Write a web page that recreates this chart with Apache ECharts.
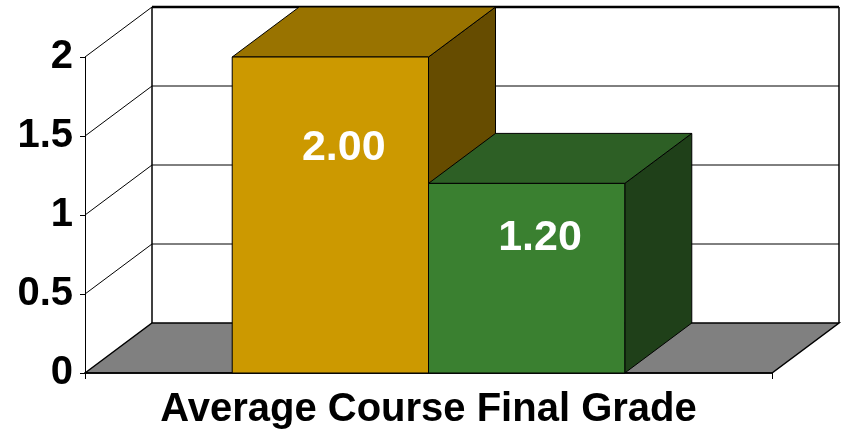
<!DOCTYPE html>
<html>
<head>
<meta charset="utf-8">
<script src="https://cdn.jsdelivr.net/npm/echarts@6/dist/echarts.min.js"></script>
<style>
  html, body { margin: 0; padding: 0; background: #fff; }
  #chart { width: 845px; height: 436px; }
</style>
</head>
<body>
<div id="chart"></div>
<script>
// data
const categories = ['Average Course Final Grade'];
const seriesNames = ['Grade A', 'Grade B'];
const values = [2.00, 1.20];
const yTicks = [0, 0.5, 1, 1.5, 2];

// 3D look
const DEPTH = [67, -50];
const GAP = 1.5; // excel gap width 150%
const faceColors = [
  { front: '#cc9900', top: '#997300', side: '#664c00' },
  { front: '#3a8030', top: '#2d5f25', side: '#1f4019' }
];

const chart = echarts.init(document.getElementById('chart'));

// back wall, side wall gridlines and floor
const renderFrame = (params, api) => {
  const cs = params.coordSys;
  const left = cs.x, right = cs.x + cs.width;
  const [dx, dy] = DEPTH;
  const y = api.coord([0, api.value(1)])[1];
  const children = [];
  const line = (x1, y1, x2, y2, w) => ({
    type: 'line',
    shape: { x1, y1, x2, y2 },
    style: { stroke: '#000', lineWidth: w || 1 }
  });
  if (params.dataIndex === 0) {
    children.push({
      type: 'polygon',
      shape: { points: [[left, y], [left + dx, y + dy], [right + dx, y + dy], [right, y]] },
      style: { fill: '#808080', stroke: '#000', lineWidth: 1.5 }
    });
  } else {
    children.push(line(left, y, left + dx, y + dy));
    const last = params.dataIndex === yTicks.length - 1;
    children.push(line(left + dx, y + dy, right + dx, y + dy, last ? 2.5 : 1));
    if (last) {
      const y0 = api.coord([0, 0])[1];
      children.push(line(left + dx, y + dy, left + dx, y0 + dy, 1.5));
      children.push(line(right + dx, y + dy, right + dx, y0 + dy, 1.5));
    }
  }
  return { type: 'group', children };
};

const makeBarRender = (idx) => (params, api) => {
  const [dx, dy] = DEPTH;
  const base = api.coord([api.value(0), 0]);
  const top = api.coord([api.value(0), api.value(1)]);
  const band = api.size([1, 0])[0];
  const barW = band / (values.length + GAP);
  const x0 = base[0] - band / 2 + barW * GAP / 2 + idx * barW;
  const x1 = x0 + barW;
  const ty = top[1], by = base[1];
  const c = faceColors[idx];
  const stroke = { stroke: '#000', lineWidth: 1 };
  return {
    type: 'group',
    children: [
      {
        type: 'polygon',
        shape: { points: [[x1, ty], [x1 + dx, ty + dy], [x1 + dx, by + dy], [x1, by]] },
        style: { fill: c.side, ...stroke }
      },
      {
        type: 'polygon',
        shape: { points: [[x0, ty], [x0 + dx, ty + dy], [x1 + dx, ty + dy], [x1, ty]] },
        style: { fill: c.top, ...stroke }
      },
      {
        type: 'rect',
        shape: { x: x0, y: ty, width: barW, height: by - ty },
        style: { fill: c.front, ...stroke }
      },
      {
        type: 'text',
        x: (x0 + x1) / 2 + dx * 0.2,
        y: ty + (by - ty) * 0.29,
        style: {
          text: api.value(1).toFixed(2),
          fill: '#fff',
          font: 'bold 43px "Liberation Sans", Arial, sans-serif',
          align: 'center',
          verticalAlign: 'middle'
        }
      }
    ]
  };
};

const option = {
  backgroundColor: '#ffffff',
  animation: false,
  grid: { left: 85, right: 73, top: 57, bottom: 63, containLabel: false },
  xAxis: {
    type: 'category',
    data: categories,
    axisLine: { lineStyle: { color: '#000', width: 1.5 } },
    axisTick: { show: true, length: 6, lineStyle: { color: '#000' } },
    axisLabel: {
      color: '#000',
      fontSize: 40,
      fontWeight: 'bold',
      fontFamily: '"Liberation Sans", Arial, sans-serif',
      margin: 17
    },
    splitLine: { show: false },
    z: 1
  },
  yAxis: {
    type: 'value',
    min: 0,
    max: 2,
    interval: 0.5,
    axisLine: { show: true, lineStyle: { color: '#000', width: 1 } },
    axisTick: { show: true, length: 5, lineStyle: { color: '#000' } },
    axisLabel: {
      color: '#000',
      fontSize: 40,
      fontWeight: 'bold',
      fontFamily: '"Liberation Sans", Arial, sans-serif',
      margin: 12
    },
    splitLine: { show: false }
  },
  series: [
    {
      name: 'frame',
      type: 'custom',
      silent: true,
      renderItem: renderFrame,
      data: yTicks.map(v => [0, v]),
      z: 0
    },
    ...values.map((v, i) => ({
      name: seriesNames[i],
      type: 'custom',
      renderItem: makeBarRender(i),
      data: [[0, v]],
      z: 2
    }))
  ]
};

chart.setOption(option);
window.addEventListener('resize', () => chart.resize());
</script>
</body>
</html>
